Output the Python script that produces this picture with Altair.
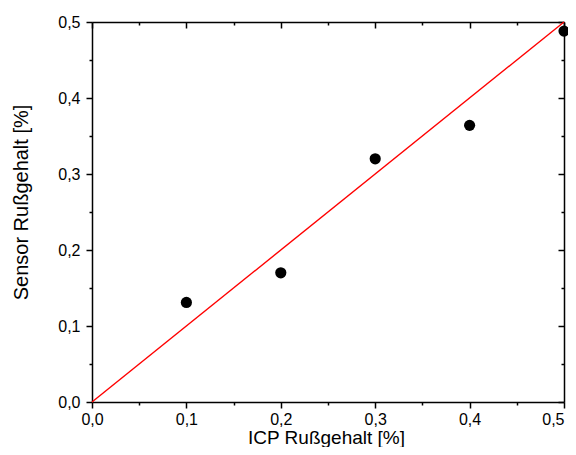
import altair as alt
import pandas as pd

# data
icp = [0.1, 0.2, 0.3, 0.4, 0.5]
sensor = [0.131, 0.170, 0.320, 0.364, 0.488]
line_x = [0.0, 0.5]
line_y = [0.0, 0.5]
tick_values = [round(i * 0.05, 2) for i in range(11)]

pts = pd.DataFrame({"icp": icp, "sensor": sensor})
ln = pd.DataFrame({"icp": line_x, "sensor": line_y})

FONT = "Liberation Sans"
major = "round(datum.value*20) % 2 == 0"
lab = f"{major} ? replace(format(datum.value, '.1f'), '.', ',') : ''"
tick_size = {"condition": {"test": major, "value": 6}, "value": 3}
last_align = {"condition": {"test": "datum.value >= 0.499", "value": "right"}, "value": "center"}

common = dict(values=tick_values, grid=False, domainColor="black", domainWidth=1.5,
              tickColor="black", tickWidth=1.5, tickSize=tick_size)

x_bottom = alt.Axis(orient="bottom", title="ICP Rußgehalt [%]", labelExpr=lab,
                    labelFont=FONT, labelFontSize=16, labelColor="black", labelPadding=3,
                    labelFlush=False, labelOverlap=False, labelAlign=last_align,
                    titleFont=FONT, titleFontSize=19, titleFontWeight="normal", titleColor="black",
                    titleX=234, titleY=41, titleAlign="center", titleBaseline="alphabetic",
                    **common)
x_top = alt.Axis(orient="bottom", offset=-380, labels=False, title="", **common)

y_left = alt.Axis(orient="left", title="Sensor Rußgehalt [%]", labelExpr=lab,
                  labelFont=FONT, labelFontSize=16, labelColor="black", labelPadding=6,
                  labelFlush=False, labelOverlap=False,
                  titleFont=FONT, titleFontSize=20, titleFontWeight="normal", titleColor="black",
                  titleX=-65, titleY=180, titleAngle=270, titleAlign="center",
                  titleBaseline="alphabetic", **common)
y_right = alt.Axis(orient="left", offset=-472, labels=False, title="", **common)

xs = alt.Scale(domain=[0, 0.5], nice=False, zero=False)
ys = alt.Scale(domain=[0, 0.5], nice=False, zero=False)

line = alt.Chart(ln).mark_line(color="#ff0000", strokeWidth=1.4).encode(
    x=alt.X("icp:Q", scale=xs, axis=x_bottom),
    y=alt.Y("sensor:Q", scale=ys, axis=y_left),
)
points = alt.Chart(pts).mark_circle(size=125, color="black", opacity=1).encode(
    x=alt.X("icp:Q", scale=xs, axis=x_top),
    y=alt.Y("sensor:Q", scale=ys, axis=y_right),
)

chart = alt.layer(line, points).resolve_axis(x="independent", y="independent").properties(
    width=472, height=380,
    padding={"left": 84, "top": 14, "right": 4, "bottom": 45},
    autosize=alt.AutoSizeParams(type="none"),
    background="white",
).configure_view(strokeOpacity=0)

chart.save("out.html", embed_options={"renderer": "svg", "actions": False})
